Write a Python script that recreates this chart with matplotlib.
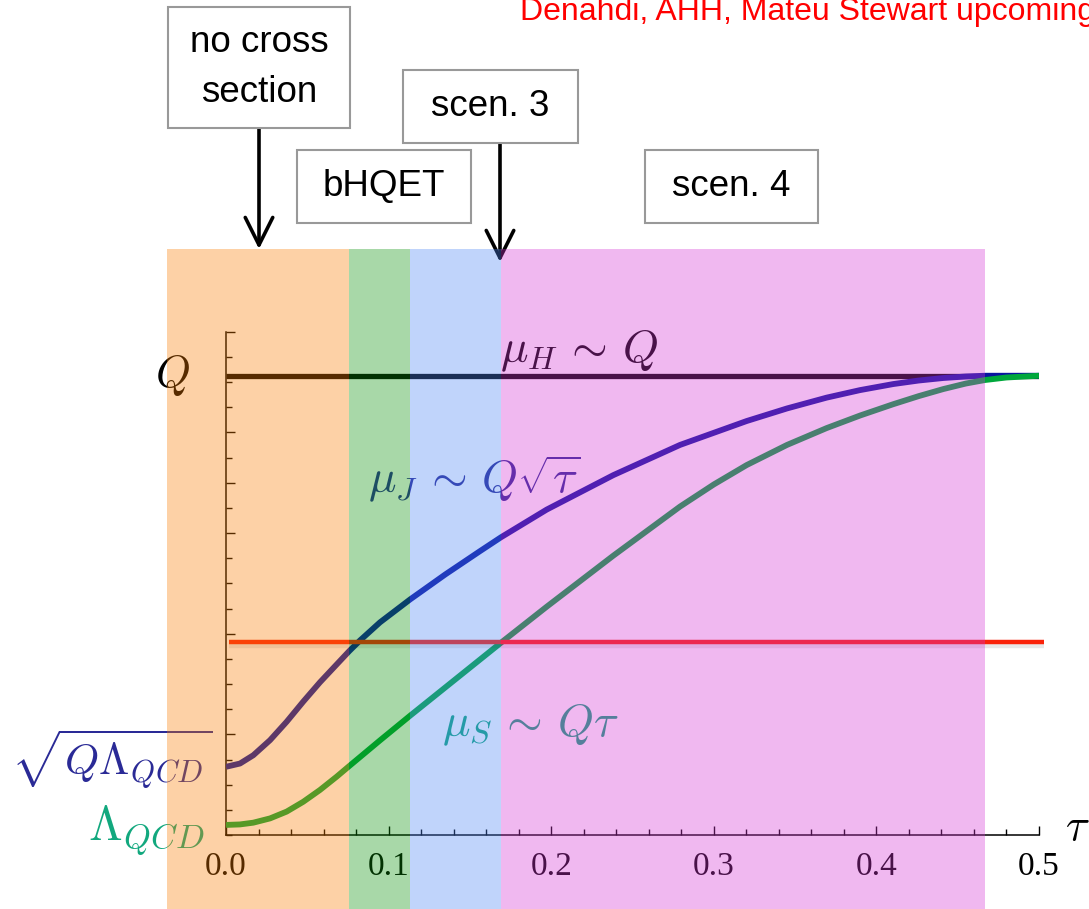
import numpy as np
import matplotlib.pyplot as plt
import matplotlib.patheffects as pe
from matplotlib.patches import Rectangle
from matplotlib.transforms import blended_transform_factory

plt.rcParams['mathtext.fontset'] = 'cm'

W, H = 1089, 909

# scales in units of the y tick spacing
tau_j = [0.0, 0.0086, 0.0168, 0.0271, 0.0373, 0.0475, 0.0578, 0.0681, 0.0758, 0.0824,
         0.0947, 0.1132, 0.1350, 0.1562, 0.1691, 0.1972, 0.2382, 0.2792, 0.3202, 0.3450,
         0.3694, 0.3900, 0.4104, 0.4260, 0.4411, 0.4550, 0.4668, 0.5]
mu_j = [2.71, 2.84, 3.17, 3.77, 4.50, 5.30, 6.07, 6.78, 7.31, 7.73,
        8.45, 9.36, 10.36, 11.28, 11.83, 12.93, 14.30, 15.50, 16.45, 16.95,
        17.38, 17.68, 17.92, 18.06, 18.16, 18.22, 18.25, 18.25]

tau_s = [0.0, 0.0086, 0.0168, 0.0271, 0.0373, 0.0475, 0.0578, 0.0681, 0.0758, 0.0947,
         0.1132, 0.1398, 0.1691, 0.1972, 0.2382, 0.2792, 0.3000, 0.3202, 0.3450, 0.3694,
         0.3900, 0.4104, 0.4260, 0.4411, 0.4550, 0.4668, 0.4800, 0.5]
mu_s = [0.40, 0.42, 0.49, 0.66, 0.93, 1.32, 1.79, 2.32, 2.74, 3.76,
        4.74, 6.12, 7.64, 9.07, 11.10, 13.05, 13.93, 14.70, 15.50, 16.17,
        16.67, 17.12, 17.44, 17.72, 17.94, 18.08, 18.18, 18.25]

q_level = 18.25
m_level = 7.65
tau_red = [0.002, 0.503]

# regions
band_edges = [-0.036, 0.0757, 0.1132, 0.1691, 0.4668]
band_colors = ['#fa7d00', '#069006', '#4b84f6', '#d434d4']

xticks = [0.0, 0.1, 0.2, 0.3, 0.4, 0.5]
xticklabels = ['0.0', '0.1', '0.2', '0.3', '0.4', '0.5']
yticks_long = [4, 8, 12, 14, 16, 20]

# label boxes: text, (left, top, right, bottom) in pixels from top-left
boxes = [("no cross\nsection", (168, 7, 350, 128)),
         ("bHQET", (297, 150, 471, 223)),
         ("scen. 3", (403, 70, 578, 143)),
         ("scen. 4", (645, 150, 818, 223))]
arrows = [(259, 128, 249), (500, 143, 262)]


def fx(px):
    return px / W


def fy(py):
    return 1 - py / H


fig = plt.figure(figsize=(W / 100, H / 100), dpi=100)
ax = fig.add_axes([fx(226), fy(835), 813 / W, (835 - 331.7) / H])
ax.set_xlim(0, 0.5)
ax.set_ylim(0, 20)

for s in ['top', 'right']:
    ax.spines[s].set_visible(False)
for s in ['left', 'bottom']:
    ax.spines[s].set_linewidth(1.1)

ax.set_xticks(xticks)
ax.set_xticklabels(xticklabels, family='Liberation Serif', fontsize=24)
ax.set_xticks(np.arange(0, 0.501, 0.02), minor=True)
ax.set_yticks(yticks_long)
ax.set_yticklabels([])
ax.set_yticks([i for i in range(21) if i not in yticks_long], minor=True)
ax.tick_params(which='major', direction='in', length=6.5, width=1.0, pad=12)
ax.tick_params(which='minor', direction='in', length=4, width=1.0)

# curves
ax.plot([0, 0.5], [q_level, q_level], color='black', lw=3.8, solid_capstyle='butt', zorder=2)
ax.plot(tau_j, mu_j, color='#0a14a0', lw=4.2, solid_capstyle='butt', zorder=3)
ax.plot(tau_s, mu_s, color='#00a83c', lw=4.2, solid_capstyle='butt', zorder=4)
ax.plot(tau_red, [m_level, m_level], color='#fa230a', lw=3.2, solid_capstyle='butt',
        zorder=5, clip_on=False,
        path_effects=[pe.SimpleLineShadow(offset=(0, -2.5), shadow_color='k', alpha=0.09),
                      pe.Normal()])

# labels
ax.text(0.2171, 19.23, r'$\mu_H\,\sim\,Q$', fontsize=33, color='black', ha='center', va='center')
ax.text(0.1525, 14.14, r'$\mu_J\,\sim\,Q\sqrt{\tau}$', fontsize=33, color='#2a2a96', ha='center', va='center')
ax.text(0.187, 4.37, r'$\mu_S\,\sim\,Q\tau$', fontsize=33, color='#12a87e', ha='center', va='center')
ax.text(-0.022, q_level, r'$Q$', fontsize=32, color='black', ha='right', va='center', clip_on=False)
ax.text(-0.008, 3.0, r'$\sqrt{Q\Lambda_{QCD}}$', fontsize=31.5, color='#2a2a96', ha='right', va='center', clip_on=False)
ax.text(-0.013, 0.16, r'$\Lambda_{QCD}$', fontsize=35, color='#12a87e', ha='right', va='center', clip_on=False)
ax.text(0.5234, 0.3, r'$\tau$', fontsize=32, color='black', ha='center', va='center', clip_on=False)

# translucent regions over the whole plot
trans = blended_transform_factory(ax.transData, fig.transFigure)
for x0, x1, c in zip(band_edges[:-1], band_edges[1:], band_colors):
    r = Rectangle((x0, 0), x1 - x0, fy(249), transform=trans, facecolor=c,
                  alpha=0.35, lw=0, zorder=5)
    fig.add_artist(r)

for txt, (l, t, r, b) in boxes:
    fig.add_artist(Rectangle((fx(l), fy(b)), fx(r) - fx(l), fy(t) - fy(b),
                             transform=fig.transFigure, facecolor='white',
                             edgecolor='#999999', lw=1.5, zorder=6))
    fig.text(fx((l + r) / 2), fy((t + b) / 2), txt, ha='center', va='center',
             family='Liberation Sans', fontsize=26.5, linespacing=1.55, zorder=7)

for x, y0, y1 in arrows:
    ax.annotate('', xy=(x, H - y1), xytext=(x, H - y0), xycoords='figure pixels',
                textcoords='figure pixels', annotation_clip=False, zorder=8,
                arrowprops=dict(arrowstyle='->,head_length=0.9,head_width=0.45',
                                lw=2.6, color='black', shrinkA=0, shrinkB=0,
                                mutation_scale=22))

fig.text(fx(520), fy(20), 'Denahdi, AHH, Mateu Stewart upcoming', color='red',
         family='Liberation Sans', fontsize=23, ha='left', va='baseline')

fig.savefig('out.png', dpi=100)
